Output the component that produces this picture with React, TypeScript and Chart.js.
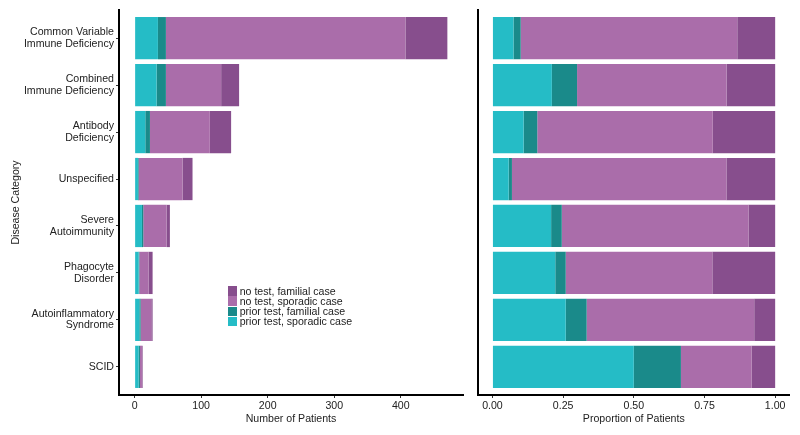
import React, { useEffect, useRef } from "react";
import { Chart, registerables } from "chart.js";

Chart.register(...registerables);

const categories: (string | string[])[] = [
  ["Common Variable", "Immune Deficiency"],
  ["Combined", "Immune Deficiency"],
  ["Antibody", "Deficiency"],
  "Unspecified",
  ["Severe", "Autoimmunity"],
  ["Phagocyte", "Disorder"],
  ["Autoinflammatory", "Syndrome"],
  "SCID",
];

const priorSporadic = [35, 33, 16, 5, 11, 6, 7, 6];
const priorFamilial = [12, 14, 7, 1, 2, 1, 2, 2];
const noTestSporadic = [360, 83, 90, 66, 35, 14, 16, 3];
const noTestFamilial = [63, 27, 32, 15, 5, 6, 2, 1];

const seriesNames = [
  "prior test, sporadic case",
  "prior test, familial case",
  "no test, sporadic case",
  "no test, familial case",
];
const seriesColors = ["#25BCC6", "#1A8A8A", "#AA6DAA", "#874E8D"];
const seriesValues = [priorSporadic, priorFamilial, noTestSporadic, noTestFamilial];

const countTicks = [0, 100, 200, 300, 400];
const propTicks = [0, 0.25, 0.5, 0.75, 1];

const FONT = "'Liberation Sans', Arial, Helvetica, sans-serif";
const FS = 10.6;
const TXT = "#222";

function buildDatasets(proportion: boolean) {
  const totals = categories.map((_, i) =>
    seriesValues.reduce((s, arr) => s + arr[i], 0)
  );
  return seriesValues.map((arr, k) => ({
    label: seriesNames[k],
    data: arr.map((v, i) => ({ x: proportion ? v / totals[i] : v, y: i })),
    backgroundColor: seriesColors[k],
    borderWidth: 0,
    categoryPercentage: 0.9,
    barPercentage: 1,
  }));
}

function makeOptions(proportion: boolean): any {
  return {
    indexAxis: "y",
    responsive: false,
    animation: false,
    maintainAspectRatio: false,
    layout: {
      padding: proportion
        ? { left: 0, right: 10.7, top: 10, bottom: 0 }
        : { left: 0, right: 7, top: 10, bottom: 0 },
    },
    plugins: { legend: { display: false }, tooltip: { enabled: false } },
    scales: {
      x: {
        type: "linear",
        stacked: true,
        min: proportion ? -0.05 : -23.5,
        max: proportion ? 1.05 : 493.5,
        afterBuildTicks: (s: any) => {
          s.ticks = (proportion ? propTicks : countTicks).map((v) => ({ value: v }));
        },
        afterFit: (s: any) => {
          s.height = 40;
        },
        ticks: {
          font: { family: FONT, size: FS },
          color: TXT,
          padding: 2,
          maxRotation: 0,
          autoSkip: false,
          callback: (v: any) => (proportion ? Number(v).toFixed(2) : String(v)),
        },
        grid: {
          display: true,
          drawOnChartArea: false,
          drawTicks: true,
          tickLength: 3,
          color: "#333",
        },
        border: { display: true, color: "#000", width: 2 },
        title: {
          display: true,
          text: proportion ? "Proportion of Patients" : "Number of Patients",
          font: { family: FONT, size: FS },
          color: TXT,
          padding: { top: 0, bottom: 9.5 },
        },
      },
      y: {
        type: "linear",
        stacked: true,
        reverse: true,
        offset: false,
        min: -0.6,
        max: 7.6,
        afterBuildTicks: (s: any) => {
          s.ticks = categories.map((_, i) => ({ value: i }));
        },
        afterFit: (s: any) => {
          s.width = proportion ? 8.3 : 119;
        },
        ticks: {
          display: !proportion,
          font: { family: FONT, size: FS, lineHeight: 1.07 },
          color: TXT,
          padding: 2,
          autoSkip: false,
          callback: (v: any) => categories[Math.round(Number(v))],
        },
        grid: {
          display: !proportion,
          offset: false,
          drawOnChartArea: false,
          drawTicks: true,
          tickLength: 3,
          color: "#333",
        },
        border: { display: true, color: "#000", width: 2 },
        title: {
          display: !proportion,
          text: "Disease Category",
          font: { family: FONT, size: FS },
          color: TXT,
          padding: { top: 9.5, bottom: 0 },
        },
      },
    },
  };
}

function BarPanel({ proportion, left, width }: { proportion: boolean; left: number; width: number }) {
  const ref = useRef<HTMLCanvasElement | null>(null);
  useEffect(() => {
    if (!ref.current) return;
    const chart = new Chart(ref.current, {
      type: "bar",
      data: { datasets: buildDatasets(proportion) as any },
      options: makeOptions(proportion),
    });
    return () => chart.destroy();
  }, [proportion]);
  return (
    <canvas
      ref={ref}
      width={width}
      height={435}
      style={{ position: "absolute", left, top: 0, width, height: 435 }}
    />
  );
}

const legendOrder = [3, 2, 1, 0];

export default function App() {
  return (
    <div
      style={{
        position: "fixed",
        left: 0,
        top: 0,
        width: 800,
        height: 435,
        background: "#fff",
        overflow: "hidden",
      }}
    >
      <BarPanel proportion={false} left={0} width={470} />
      <BarPanel proportion={true} left={470} width={330} />
      <div style={{ position: "absolute", left: 227.7, top: 285.8 }}>
        {legendOrder.map((k) => (
          <div
            key={k}
            style={{ display: "flex", alignItems: "center", height: 10.2 }}
          >
            <div
              style={{
                width: 9,
                height: 9.3,
                background: seriesColors[k],
                marginRight: 3,
              }}
            />
            <span
              style={{
                fontFamily: FONT,
                fontSize: FS,
                color: TXT,
                lineHeight: "10.2px",
                whiteSpace: "nowrap",
              }}
            >
              {seriesNames[k]}
            </span>
          </div>
        ))}
      </div>
    </div>
  );
}
